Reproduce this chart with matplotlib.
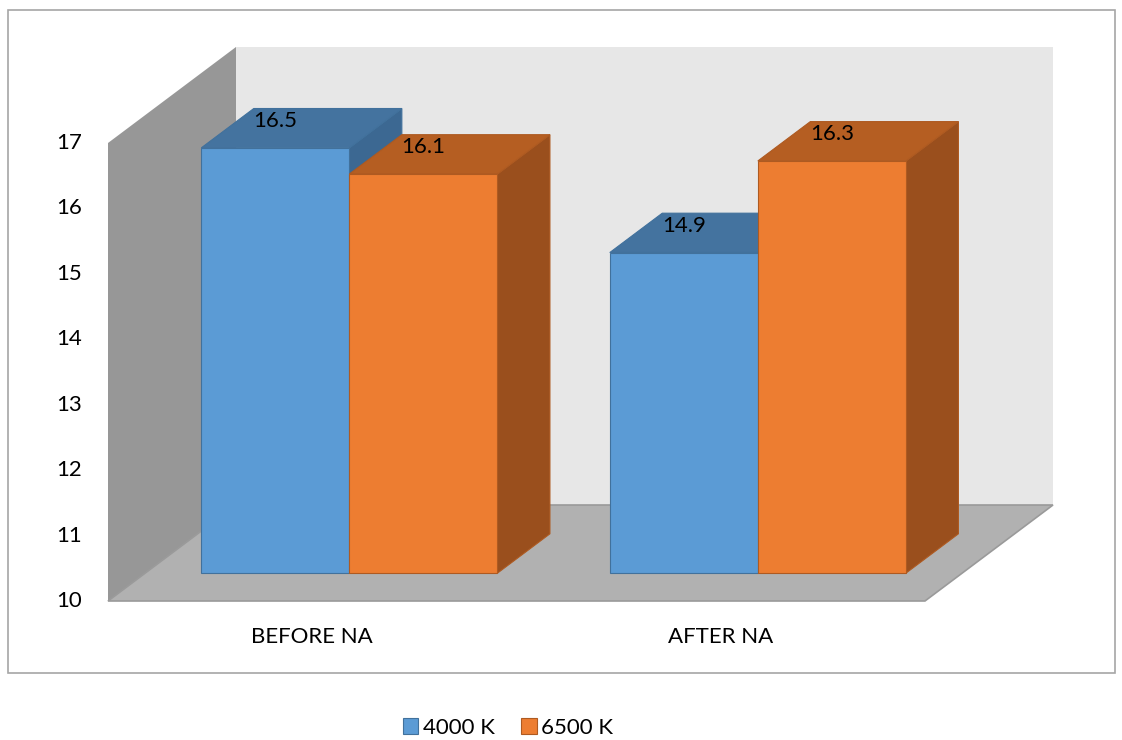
import matplotlib
matplotlib.use("Agg")
import matplotlib.pyplot as plt
from matplotlib.patches import Polygon, Rectangle, Patch

# ---- data ----
categories = ["BEFORE NA", "AFTER NA"]
series_names = ["4000 K", "6500 K"]
values_4000 = [16.5, 14.9]
values_6500 = [16.1, 16.3]
y_ticks = [10, 11, 12, 13, 14, 15, 16, 17]

# ---- style ----
front_colors = ["#5b9bd5", "#ed7d31"]
top_colors = ["#44739f", "#b55e22"]
side_colors = ["#3c6892", "#9a4f1d"]
edge_colors = ["#41719c", "#ae5a21"]
FONT = ["Lato", "DejaVu Sans"]
FS = 16

W, H = 1122, 740
fig = plt.figure(figsize=(W / 100, H / 100), dpi=100)
ax = fig.add_axes([0, 0, 1, 1])

# data-coordinate frame: x in category units, y in value units
PX_X = 408.5          # px per category
PX_Y = 65.43          # px per value unit
X0_PX, Y0_PX = 108, 601  # pixel of (0, 10)
ymin = 10 - (H - Y0_PX) / PX_Y
ymax = 10 + Y0_PX / PX_Y
xmin = -X0_PX / PX_X
xmax = (W - X0_PX) / PX_X
ax.set_xlim(xmin, xmax)
ax.set_ylim(ymin, ymax)
ax.axis("off")

YMIN, YMAX = y_ticks[0], y_ticks[-1]
DX = 128 / PX_X   # full-depth offset
DY = 96 / PX_Y


def P(x, v, d):
    return (x + d * DX, v + d * DY)


ncat = len(categories)
# back wall
ax.add_patch(Polygon([P(0, YMIN, 1), P(ncat, YMIN, 1), P(ncat, YMAX, 1), P(0, YMAX, 1)],
                     closed=True, facecolor="#e7e7e7", edgecolor="none", zorder=1))
# left wall
ax.add_patch(Polygon([P(0, YMIN, 0), P(0, YMIN, 1), P(0, YMAX, 1), P(0, YMAX, 0)],
                     closed=True, facecolor="#979797", edgecolor="none", zorder=2))
# floor
ax.add_patch(Polygon([P(0, YMIN, 0), P(ncat, YMIN, 0), P(ncat, YMIN, 1), P(0, YMIN, 1)],
                     closed=True, facecolor="#b1b1b1", edgecolor="#9a9a9a", linewidth=1.2, zorder=3))

# bars
D0, D1 = 0.29, 0.70
GAP = 0.1375
BW = (1 - 2 * GAP) / 2
series = [values_4000, values_6500]
z = 4
for ci in range(ncat):
    for si, vals in enumerate(series):
        v = vals[ci]
        xl = ci + GAP + si * BW
        xr = xl + BW
        ec = edge_colors[si]
        side = [P(xr, YMIN, D0), P(xr, YMIN, D1), P(xr, v, D1), P(xr, v, D0)]
        top = [P(xl, v, D0), P(xr, v, D0), P(xr, v, D1), P(xl, v, D1)]
        front = [P(xl, YMIN, D0), P(xr, YMIN, D0), P(xr, v, D0), P(xl, v, D0)]
        ax.add_patch(Polygon(side, closed=True, facecolor=side_colors[si], edgecolor=ec,
                             linewidth=0.8, zorder=z))
        ax.add_patch(Polygon(top, closed=True, facecolor=top_colors[si], edgecolor=ec,
                             linewidth=0.8, zorder=z + 0.1))
        ax.add_patch(Polygon(front, closed=True, facecolor=front_colors[si], edgecolor=ec,
                             linewidth=0.8, zorder=z + 0.2))
        lx, ly = P((xl + xr) / 2, v + 0.41, D0)
        ax.text(lx, ly, f"{v}", ha="center", va="center", fontsize=FS,
                family=FONT, color="black", zorder=z + 0.3)
        z += 1

# y tick labels
for t in y_ticks:
    ax.text(-26 / PX_X, t, str(t), ha="right", va="center", fontsize=FS,
            family=FONT, color="black", zorder=10)

# category labels
for ci, c in enumerate(categories):
    ax.text(ci + 0.5, 10 - 36 / PX_Y, c, ha="center", va="center", fontsize=FS,
            family=FONT, color="black", zorder=10)

# outer border
fig.patches.append(Rectangle((8 / W, 1 - 673 / H), (1115 - 8) / W, (673 - 10) / H,
                             transform=fig.transFigure, fill=False,
                             edgecolor="#a6a6a6", linewidth=1.2))

# legend
handles = [Patch(facecolor=front_colors[i], edgecolor=edge_colors[i], linewidth=0.8,
                 label=series_names[i]) for i in range(2)]
leg = fig.legend(handles=handles, loc="center", bbox_to_anchor=(508 / W, 1 - 728 / H),
                 ncol=2, frameon=False, handlelength=0.7, handleheight=0.7,
                 handletextpad=0.2, columnspacing=1.2,
                 prop={"family": FONT, "size": FS})

fig.savefig("out.png", dpi=100)
